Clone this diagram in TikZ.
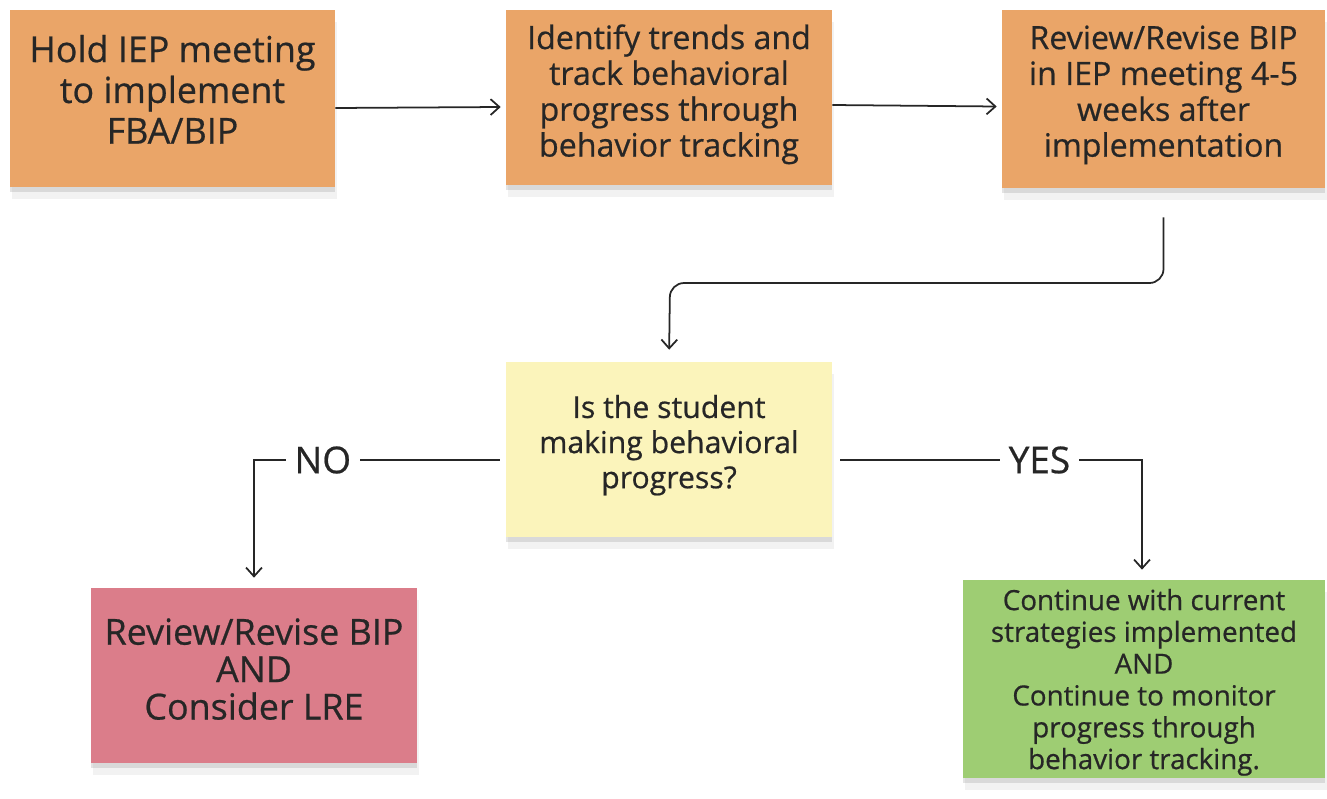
\documentclass[tikz,border=0pt]{standalone}
\usepackage{fontspec}
\setmainfont{Open Sans}[FakeBold=0.6]
\usetikzlibrary{shadows,arrows.meta}
\definecolor{notebox}{RGB}{234,165,104}
\definecolor{askbox}{RGB}{251,244,187}
\definecolor{nobox}{RGB}{219,125,138}
\definecolor{yesbox}{RGB}{158,205,115}
\begin{document}
\begin{tikzpicture}[x=0.02cm,y=-0.02cm,>={Straight Barb[length=5pt,width=9pt]},
  note/.style={align=center,inner sep=2pt,text=black!85,text depth=9pt,
    drop shadow={shadow xshift=0pt,shadow yshift=-3pt,opacity=.22},
    drop shadow={shadow xshift=1pt,shadow yshift=-7pt,opacity=.1}},
  conn/.style={->,line width=1pt,black!85},
  tag/.style={fill=white,font=\fontsize{21}{23}\selectfont,inner sep=5pt}]
\useasboundingbox (0,0) rectangle (1327,798);
% top row
\node[note,fill=notebox,minimum width=6.5cm,minimum height=3.54cm,text depth=10.5pt,font=\fontsize{20.4}{23.2}\selectfont] (hold) at (172.5,98.5) {Hold IEP meeting\\to implement\\FBA/BIP};
\node[note,fill=notebox,minimum width=6.52cm,minimum height=3.5cm,text depth=8pt,font=\fontsize{18.3}{20.4}\selectfont] (track) at (669,97.5) {Identify trends and\\track behavioral\\progress through\\behavior tracking};
\node[note,fill=notebox,minimum width=6.46cm,minimum height=3.56cm,font=\fontsize{18.3}{20.4}\selectfont] (review) at (1163.5,99) {Review/Revise BIP\\in IEP meeting 4-5\\weeks after\\implementation};
% decision
\node[note,fill=askbox,minimum width=6.52cm,minimum height=3.5cm,font=\fontsize{17.2}{20}\selectfont] (ask) at (669,449.5) {Is the student\\making behavioral\\progress?};
% outcomes
\node[note,fill=nobox,minimum width=6.52cm,minimum height=3.5cm,text depth=7.5pt,font=\fontsize{20.4}{21.3}\selectfont] (revise) at (254,675.5) {Review/Revise BIP\\AND\\Consider LRE};
\node[note,fill=yesbox,minimum width=7.24cm,minimum height=3.96cm,text depth=0pt,font=\fontsize{15.8}{18.1}\selectfont] (keep) at (1144,679) {Continue with current\\strategies implemented\\AND\\Continue to monitor\\progress through\\behavior tracking.};
\coordinate (bend) at (670,283);
\draw[conn] ([yshift=-0.19cm]hold.east) -- ([yshift=-0.19cm,xshift=-0.1cm]track.west);
\draw[conn] ([yshift=-0.15cm]track.east) -- ([yshift=-0.15cm,xshift=-0.1cm]review.west);
\draw[conn,rounded corners=8pt,shorten <=0.58cm,shorten >=0.24cm] (review.south) |- (bend) -- (ask.north);
\draw[conn,shorten >=0.2cm] ([yshift=-0.21cm,xshift=-0.12cm]ask.west) -| (revise.north) node[tag,pos=0.36] (no) {NO};
\draw[conn,shorten >=0.2cm] ([yshift=-0.21cm,xshift=0.16cm]ask.east) -| ([xshift=-0.04cm]keep.north) node[tag,pos=0.33] (yes) {YES};
\end{tikzpicture}
\end{document}
